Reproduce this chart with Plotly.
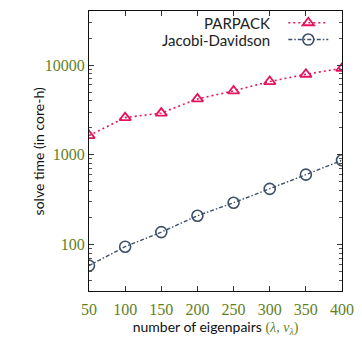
import plotly.graph_objects as go
import numpy as np

eigenpairs = [50, 100, 150, 200, 250, 300, 350, 400]
parpack = [1640, 2600, 2920, 4200, 5150, 6550, 7900, 9200]
jacobi_davidson = [58.5, 95, 138, 210, 293, 418, 602, 872]
y_ticks = [100, 1000, 10000]
y_tick_labels = ["100", "1000", "10000"]

OLIVE = "#5f7f1f"
RED = "#e5135f"
SLATE = "#3e5068"
SANS = "Lato, 'DejaVu Sans', sans-serif"
SERIF = "'Liberation Serif', 'DejaVu Serif', serif"

fig = go.Figure()
fig.add_trace(go.Scatter(
    x=eigenpairs, y=parpack, name=" ", mode="lines+markers", legend="legend",
    line=dict(color=RED, width=1.6, dash="2px,3px"),
    marker=dict(symbol="triangle-up-open", size=10, color=RED, line=dict(width=1.8, color=RED)),
))
fig.add_trace(go.Scatter(
    x=eigenpairs, y=jacobi_davidson, name=" ", mode="lines+markers", legend="legend2",
    line=dict(color=SLATE, width=1.4, dash="4px,2px,1.5px,2px"),
    marker=dict(symbol="circle-open", size=11, color=SLATE, line=dict(width=1.6, color=SLATE)),
))

axis_common = dict(
    showgrid=False, zeroline=False, showline=True, linecolor="#111", linewidth=1.3,
    mirror="allticks", ticks="inside", tickcolor="#333", tickwidth=1, ticklen=5,
    tickfont=dict(family=SERIF, size=16, color=OLIVE),
)
fig.update_xaxes(
    range=[50, 400], tickvals=eigenpairs, ticklabelstandoff=4,
    title=dict(text="number of eigenpairs <span style='font-family:Liberation Serif,serif;color:" + OLIVE + "'>(<i>λ</i>, <i>v</i><sub><i>λ</i></sub>)</span>",
               font=dict(family=SANS, size=14, color="#111"), standoff=0),
    **axis_common,
)
fig.update_yaxes(
    type="log", range=[np.log10(30.5), np.log10(40000)], tickvals=y_ticks, ticktext=y_tick_labels,
    minor=dict(ticks="inside", ticklen=3, tickcolor="#555", dtick="D1"),
    **axis_common,
)

leg_common = dict(xanchor="left", yanchor="middle", bgcolor="rgba(0,0,0,0)",
                  font=dict(family=SANS, size=9), itemwidth=40)
fig.update_layout(
    width=362, height=337, margin=dict(l=89, r=15, t=8, b=46),
    plot_bgcolor="white", paper_bgcolor="white",
    showlegend=True,
    legend=dict(x=0.768, y=0.958, **leg_common),
    legend2=dict(x=0.768, y=0.898, **leg_common),
    annotations=[
        dict(text="PARPACK", xref="paper", yref="paper", x=0.725, y=0.958, xanchor="right", yanchor="middle",
             showarrow=False, font=dict(family=SANS, size=15, color="#222")),
        dict(text="Jacobi-Davidson", xref="paper", yref="paper", x=0.725, y=0.898, xanchor="right", yanchor="middle",
             showarrow=False, font=dict(family=SANS, size=15, color="#222")),
        dict(text="solve time (in core-h)", xref="paper", yref="paper", x=-0.20, y=0.5, textangle=-90,
             xanchor="center", yanchor="middle", showarrow=False,
             font=dict(family=SANS, size=14, color="#111")),
    ],
)

fig.write_html("out.html")
